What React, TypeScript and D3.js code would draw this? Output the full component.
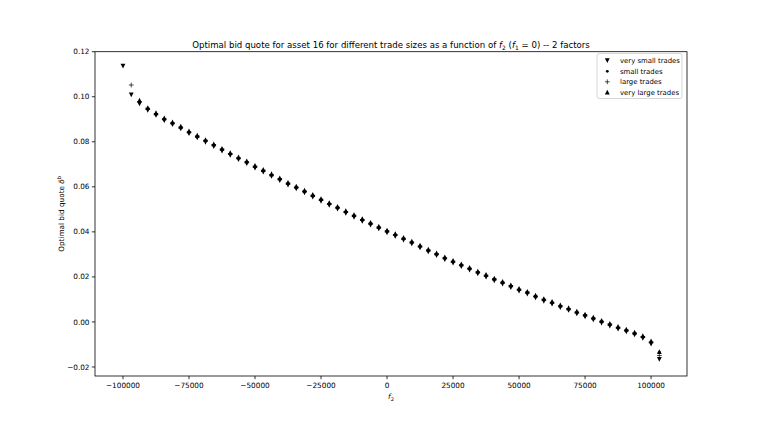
import React from "react";
import * as d3 from "d3";

// f2 grid (step 3125)
const f2Values = [
  -100000, -96875, -93750, -90625, -87500, -84375, -81250, -78125, -75000, -71875,
  -68750, -65625, -62500, -59375, -56250, -53125, -50000, -46875, -43750, -40625,
  -37500, -34375, -31250, -28125, -25000, -21875, -18750, -15625, -12500, -9375,
  -6250, -3125, 0, 3125, 6250, 9375, 12500, 15625, 18750, 21875,
  25000, 28125, 31250, 34375, 37500, 40625, 43750, 46875, 50000, 53125,
  56250, 59375, 62500, 65625, 68750, 71875, 75000, 78125, 81250, 84375,
  87500, 90625, 93750, 96875, 100000, 103125,
];

const verySmallTrades: (number | null)[] = [
  0.1136, 0.1008, 0.0968, 0.0940, 0.0917, 0.0894, 0.0876, 0.0857, 0.0836, 0.0817,
  0.0798, 0.0779, 0.0759, 0.0740, 0.0721, 0.0703, 0.0683, 0.0665, 0.0646, 0.0628,
  0.0608, 0.0591, 0.0573, 0.0554, 0.0536, 0.0518, 0.0501, 0.0482, 0.0465, 0.0447,
  0.0430, 0.0413, 0.0396, 0.0380, 0.0363, 0.0347, 0.0329, 0.0311, 0.0295, 0.0277,
  0.0261, 0.0246, 0.0230, 0.0214, 0.0199, 0.0183, 0.0168, 0.0153, 0.0137, 0.0124,
  0.0107, 0.0092, 0.0079, 0.0064, 0.0051, 0.0036, 0.0023, 0.0009, -0.0005, -0.0018,
  -0.0032, -0.0044, -0.0057, -0.0073, -0.0098, -0.0166,
];

const smallTrades: (number | null)[] = [
  null, null, 0.0975, 0.0946, 0.0923, 0.0900, 0.0882, 0.0863, 0.0842, 0.0823,
  0.0804, 0.0785, 0.0765, 0.0746, 0.0727, 0.0709, 0.0689, 0.0671, 0.0652, 0.0634,
  0.0614, 0.0597, 0.0579, 0.0560, 0.0542, 0.0524, 0.0507, 0.0488, 0.0471, 0.0453,
  0.0436, 0.0419, 0.0402, 0.0386, 0.0369, 0.0353, 0.0335, 0.0317, 0.0301, 0.0283,
  0.0267, 0.0252, 0.0236, 0.0220, 0.0205, 0.0189, 0.0174, 0.0159, 0.0143, 0.0130,
  0.0113, 0.0098, 0.0085, 0.0070, 0.0057, 0.0042, 0.0029, 0.0015, 0.0001, -0.0012,
  -0.0026, -0.0038, -0.0051, -0.0067, -0.0091, -0.0135,
];

const largeTrades: (number | null)[] = [
  null, 0.1052, 0.0978, 0.0946, 0.0923, 0.0900, 0.0882, 0.0863, 0.0842, 0.0823,
  0.0804, 0.0785, 0.0765, 0.0746, 0.0727, 0.0709, 0.0689, 0.0671, 0.0652, 0.0634,
  0.0614, 0.0597, 0.0579, 0.0560, 0.0542, 0.0524, 0.0507, 0.0488, 0.0471, 0.0453,
  0.0436, 0.0419, 0.0402, 0.0386, 0.0369, 0.0353, 0.0335, 0.0317, 0.0301, 0.0283,
  0.0267, 0.0252, 0.0236, 0.0220, 0.0205, 0.0189, 0.0174, 0.0159, 0.0143, 0.0130,
  0.0113, 0.0098, 0.0085, 0.0070, 0.0057, 0.0042, 0.0029, 0.0015, 0.0001, -0.0012,
  -0.0026, -0.0038, -0.0051, -0.0067, -0.0091, -0.0149,
];

const veryLargeTrades: (number | null)[] = [
  null, null, 0.0985, 0.0952, 0.0929, 0.0906, 0.0888, 0.0869, 0.0848, 0.0829,
  0.0810, 0.0791, 0.0771, 0.0752, 0.0733, 0.0715, 0.0695, 0.0677, 0.0658, 0.0640,
  0.0620, 0.0603, 0.0585, 0.0566, 0.0548, 0.0530, 0.0513, 0.0494, 0.0477, 0.0459,
  0.0442, 0.0425, 0.0408, 0.0392, 0.0375, 0.0359, 0.0341, 0.0323, 0.0307, 0.0289,
  0.0273, 0.0258, 0.0242, 0.0226, 0.0211, 0.0195, 0.0180, 0.0165, 0.0149, 0.0136,
  0.0119, 0.0104, 0.0091, 0.0076, 0.0063, 0.0048, 0.0035, 0.0021, 0.0007, -0.0006,
  -0.0020, -0.0032, -0.0045, -0.0061, -0.0084, -0.0132,
];

const xTicks = [-100000, -75000, -50000, -25000, 0, 25000, 50000, 75000, 100000];
const yTicks = [-0.02, 0.0, 0.02, 0.04, 0.06, 0.08, 0.1, 0.12];

const seriesNames = ["very small trades", "small trades", "large trades", "very large trades"];
const seriesMarkers = ["down", "dot", "plus", "up"];
const seriesData = [verySmallTrades, smallTrades, largeTrades, veryLargeTrades];

const W = 764;
const H = 430;
const M = { left: 95, right: 687, top: 51.7, bottom: 376 };
const FONT = "DejaVu Sans, sans-serif";

function Marker({ kind, x, y }: { kind: string; x: number; y: number }) {
  const s = 2.4;
  if (kind === "down")
    return <path d={`M${x},${y + s}L${x + s},${y - s}L${x - s},${y - s}Z`} fill="#000" />;
  if (kind === "up")
    return <path d={`M${x},${y - s}L${x + s},${y + s}L${x - s},${y + s}Z`} fill="#000" />;
  if (kind === "dot") return <circle cx={x} cy={y} r={1.4} fill="#000" />;
  return (
    <path
      d={`M${x - s},${y}L${x + s},${y}M${x},${y - s}L${x},${y + s}`}
      stroke="#000"
      strokeWidth={0.7}
      fill="none"
    />
  );
}

export default function App() {
  const x = d3.scaleLinear().domain([-110600, 113600]).range([M.left, M.right]);
  const y = d3.scaleLinear().domain([-0.024, 0.12]).range([M.bottom, M.top]);
  const fmtY = (v: number) => (v < 0 ? "\u2212" : "") + Math.abs(v).toFixed(2);
  const fmtX = (v: number) => (v < 0 ? "\u2212" : "") + Math.abs(v).toString();

  const legendY = [60.7, 71.3, 81.8, 92.2];

  return (
    <svg
      width={W}
      height={H}
      style={{ position: "absolute", left: 0, top: 0, background: "#fff" }}
      fontFamily={FONT}
    >
      <rect x={0} y={0} width={W} height={H} fill="#fff" />
      <text x={(M.left + M.right) / 2} y={48} textAnchor="middle" fontSize={8.6} fill="#000">
        Optimal bid quote for asset 16 for different trade sizes as a function of{" "}
        <tspan fontStyle="italic">f</tspan>
        <tspan fontSize={6} dy={1.5}>2</tspan>
        <tspan dy={-1.5}> (</tspan>
        <tspan fontStyle="italic">f</tspan>
        <tspan fontSize={6} dy={1.5}>1</tspan>
        <tspan dy={-1.5}> = 0) -- 2 factors</tspan>
      </text>

      {/* data */}
      {seriesData.map((arr, si) =>
        arr.map((v, i) =>
          v === null ? null : (
            <Marker key={`${si}-${i}`} kind={seriesMarkers[si]} x={x(f2Values[i])} y={y(v)} />
          )
        )
      )}

      {/* spines */}
      <rect
        x={M.left}
        y={M.top}
        width={M.right - M.left}
        height={M.bottom - M.top}
        fill="none"
        stroke="#000"
        strokeWidth={0.8}
      />

      {/* x ticks */}
      {xTicks.map((t) => (
        <g key={`xt${t}`}>
          <line x1={x(t)} x2={x(t)} y1={M.bottom} y2={M.bottom + 3.2} stroke="#000" strokeWidth={0.8} />
          <text x={x(t)} y={M.bottom + 12} textAnchor="middle" fontSize={7.3} fill="#000">
            {fmtX(t)}
          </text>
        </g>
      ))}
      {/* y ticks */}
      {yTicks.map((t) => (
        <g key={`yt${t}`}>
          <line x1={M.left - 3.2} x2={M.left} y1={y(t)} y2={y(t)} stroke="#000" strokeWidth={0.8} />
          <text
            x={M.left - 5.5}
            y={y(t)}
            dy="0.35em"
            textAnchor="end"
            fontSize={7.3}
            fill="#000"
          >
            {fmtY(t)}
          </text>
        </g>
      ))}

      {/* axis labels */}
      <text x={(M.left + M.right) / 2} y={399} textAnchor="middle" fontSize={7.3} fill="#000">
        <tspan fontStyle="italic">f</tspan>
        <tspan fontSize={5.2} dy={1.5}>2</tspan>
      </text>
      <text
        transform={`translate(64,${(M.top + M.bottom) / 2}) rotate(-90)`}
        textAnchor="middle"
        fontSize={7.3}
        fill="#000"
      >
        Optimal bid quote <tspan fontStyle="italic">δ</tspan>
        <tspan fontSize={5.2} dy={-3}>b</tspan>
      </text>

      {/* legend */}
      <rect
        x={597}
        y={53.5}
        width={85}
        height={45}
        rx={2}
        fill="#fff"
        fillOpacity={0.8}
        stroke="#ccc"
        strokeWidth={0.8}
      />
      {seriesNames.map((n, i) => (
        <g key={n}>
          <Marker kind={seriesMarkers[i]} x={607.3} y={legendY[i]} />
          <text x={620} y={legendY[i]} dy="0.35em" fontSize={6.9} fill="#000">
            {n}
          </text>
        </g>
      ))}
    </svg>
  );
}
